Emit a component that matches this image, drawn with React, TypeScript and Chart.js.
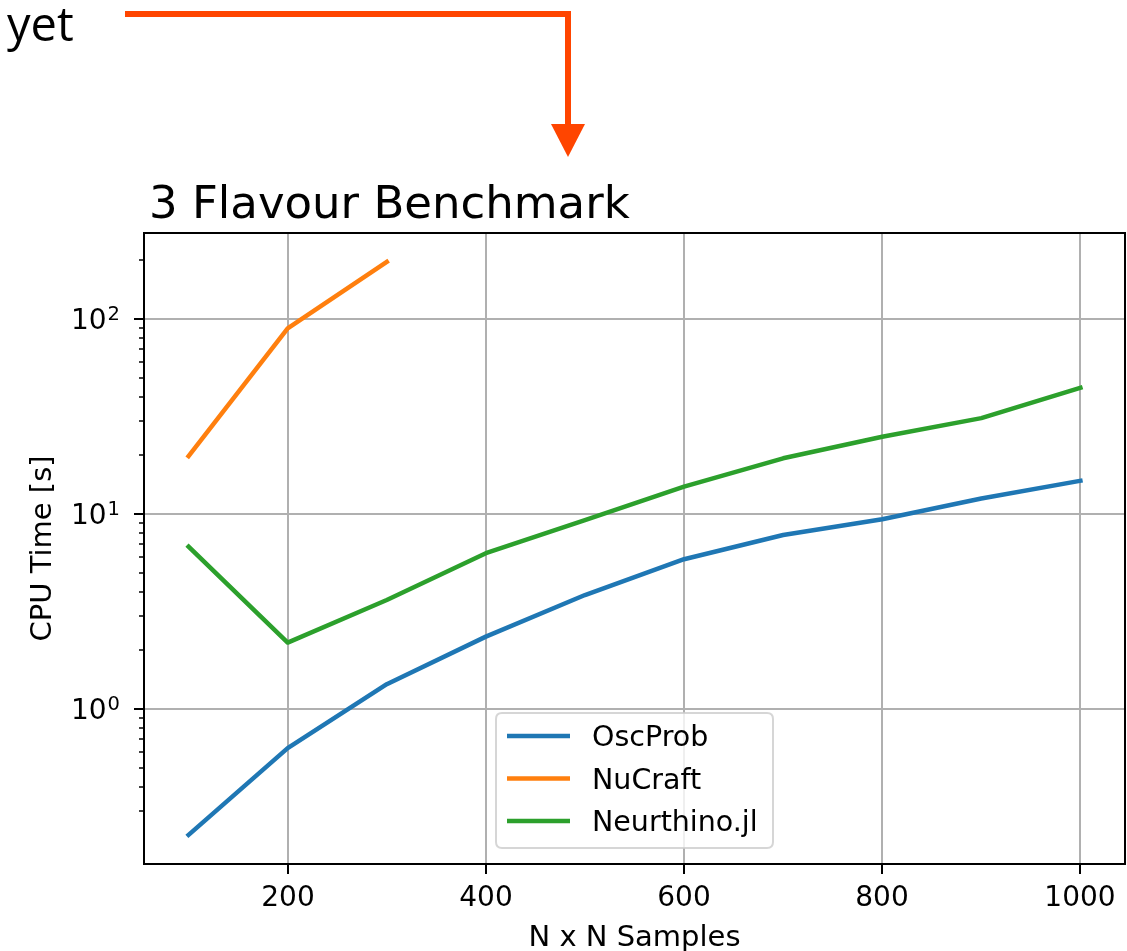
import React, { useEffect, useRef } from 'react';
import { Chart, registerables } from 'chart.js';

Chart.register(...registerables);

// ---- data ----
const samples = [100, 200, 300, 400, 500, 600, 700, 800, 900, 1000];
const nuCraftSamples = [100, 200, 300];
const oscProbTimes = [0.226, 0.63, 1.34, 2.35, 3.84, 5.86, 7.8, 9.4, 12.0, 14.8];
const nuCraftTimes = [19.8, 89.6, 196];
const neurthinoTimes = [6.8, 2.19, 3.62, 6.29, 9.3, 13.8, 19.3, 24.9, 31.0, 44.4];
const seriesLabels = ['OscProb', 'NuCraft', 'Neurthino.jl'];
const seriesColors = ['#1f77b4', '#ff7f0e', '#2ca02c'];
const xTickValues = [200, 400, 600, 800, 1000];
const yTickExponents = [0, 1, 2];
const titleText = '3 Flavour Benchmark';
const xAxisTitle = 'N x N Samples';
const yAxisTitle = 'CPU Time [s]';
const annotationText = 'yet';

const FONT = '"DejaVu Sans", sans-serif';

const isPow10 = (v: number) => {
  if (!(v > 0)) return false;
  const l = Math.log10(v);
  return Math.abs(l - Math.round(l)) < 1e-6;
};
const isNice = (v: number) => {
  if (!(v > 0)) return false;
  const m = v / Math.pow(10, Math.floor(Math.log10(v) + 1e-9));
  return Math.abs(m - Math.round(m)) < 1e-6 && Math.round(m) >= 1 && Math.round(m) <= 9;
};

const toPoints = (xs: number[], ys: number[]) => xs.map((x, i) => ({ x, y: ys[i] }));

const decorPlugin = {
  id: 'decor',
  afterDraw(chart: any) {
    const ctx: CanvasRenderingContext2D = chart.ctx;
    const { left, right, top, bottom } = chart.chartArea;
    const xs = chart.scales.x;
    const ys = chart.scales.y;
    ctx.save();

    // spines
    ctx.strokeStyle = '#000';
    ctx.lineWidth = 2;
    ctx.strokeRect(left, top, right - left, bottom - top);

    // x tick marks + labels
    ctx.fillStyle = '#000';
    ctx.font = `28px ${FONT}`;
    ctx.textAlign = 'center';
    ctx.textBaseline = 'alphabetic';
    xs.ticks.forEach((t: any) => {
      const px = Math.round(xs.getPixelForValue(t.value));
      ctx.beginPath();
      ctx.moveTo(px, bottom);
      ctx.lineTo(px, bottom + 10);
      ctx.stroke();
      ctx.fillText(String(t.value), px, bottom + 42);
    });

    // y tick marks
    ys.ticks.forEach((t: any) => {
      const py = Math.round(ys.getPixelForValue(t.value));
      const len = isPow10(t.value) ? 10 : 5;
      ctx.lineWidth = isPow10(t.value) ? 2 : 1.5;
      ctx.beginPath();
      ctx.moveTo(left - len, py);
      ctx.lineTo(left, py);
      ctx.stroke();
    });

    // y tick labels 10^n
    const labelRight = left - 24;
    yTickExponents.forEach((e) => {
      const py = ys.getPixelForValue(Math.pow(10, e));
      ctx.textAlign = 'left';
      ctx.font = `19.5px ${FONT}`;
      const supW = ctx.measureText(String(e)).width;
      ctx.font = `28px ${FONT}`;
      const baseW = ctx.measureText('10').width;
      ctx.fillText('10', labelRight - supW - 1 - baseW, py + 10);
      ctx.font = `19.5px ${FONT}`;
      ctx.fillText(String(e), labelRight - supW, py + 1);
    });

    // axis titles
    ctx.font = `29px ${FONT}`;
    ctx.textAlign = 'center';
    ctx.fillText(xAxisTitle, (left + right) / 2, 946);
    ctx.save();
    ctx.translate(51, (top + bottom) / 2);
    ctx.rotate(-Math.PI / 2);
    ctx.fillText(yAxisTitle, 0, 0);
    ctx.restore();

    // title
    ctx.font = `45px ${FONT}`;
    ctx.textAlign = 'left';
    ctx.fillText(titleText, left + 5, top - 15);

    // legend (lower center)
    const boxW = 277;
    const boxH = 135;
    const bx = (left + right) / 2 - boxW / 2;
    const by = bottom - 16 - boxH;
    const r = 6;
    ctx.beginPath();
    ctx.moveTo(bx + r, by);
    ctx.lineTo(bx + boxW - r, by);
    ctx.quadraticCurveTo(bx + boxW, by, bx + boxW, by + r);
    ctx.lineTo(bx + boxW, by + boxH - r);
    ctx.quadraticCurveTo(bx + boxW, by + boxH, bx + boxW - r, by + boxH);
    ctx.lineTo(bx + r, by + boxH);
    ctx.quadraticCurveTo(bx, by + boxH, bx, by + boxH - r);
    ctx.lineTo(bx, by + r);
    ctx.quadraticCurveTo(bx, by, bx + r, by);
    ctx.closePath();
    ctx.fillStyle = 'rgba(255,255,255,0.8)';
    ctx.fill();
    ctx.strokeStyle = 'rgba(204,204,204,0.8)';
    ctx.lineWidth = 2;
    ctx.stroke();

    chart.data.datasets.forEach((ds: any, i: number) => {
      const ry = by + 23 + i * 42.5;
      ctx.strokeStyle = ds.borderColor;
      ctx.lineWidth = 4.5;
      ctx.beginPath();
      ctx.moveTo(bx + 11, ry);
      ctx.lineTo(bx + 74, ry);
      ctx.stroke();
      ctx.fillStyle = '#000';
      ctx.font = `28.5px ${FONT}`;
      ctx.textAlign = 'left';
      ctx.fillText(ds.label, bx + 96, ry + 10);
    });

    // annotation text + arrow
    ctx.fillStyle = '#000';
    ctx.font = `47px "Open Sans", sans-serif`;
    ctx.textAlign = 'left';
    ctx.fillText(annotationText, 7, 41);

    ctx.strokeStyle = '#ff4500';
    ctx.fillStyle = '#ff4500';
    ctx.lineWidth = 6;
    ctx.lineJoin = 'miter';
    ctx.beginPath();
    ctx.moveTo(125, 14);
    ctx.lineTo(568, 14);
    ctx.lineTo(568, 126);
    ctx.stroke();
    ctx.beginPath();
    ctx.moveTo(551, 124);
    ctx.lineTo(585, 124);
    ctx.lineTo(568, 157);
    ctx.closePath();
    ctx.fill();

    ctx.restore();
  },
};

export default function App() {
  const ref = useRef<HTMLCanvasElement>(null);

  useEffect(() => {
    if (!ref.current) return;
    const datasets = [
      { label: seriesLabels[0], data: toPoints(samples, oscProbTimes), borderColor: seriesColors[0] },
      { label: seriesLabels[1], data: toPoints(nuCraftSamples, nuCraftTimes), borderColor: seriesColors[1] },
      { label: seriesLabels[2], data: toPoints(samples, neurthinoTimes), borderColor: seriesColors[2] },
    ].map((d) => ({
      ...d,
      backgroundColor: d.borderColor,
      borderWidth: 4.5,
      pointRadius: 0,
      tension: 0,
      fill: false,
      borderCapStyle: 'square' as const,
      borderJoinStyle: 'round' as const,
    }));

    const chart = new Chart(ref.current, {
      type: 'line',
      data: { datasets },
      options: {
        animation: false,
        responsive: false,
        devicePixelRatio: 1,
        layout: { padding: { top: 233, right: 2, left: 0, bottom: 0 } },
        plugins: {
          legend: { display: false },
          title: { display: false },
          tooltip: { enabled: false },
        },
        scales: {
          x: {
            type: 'linear',
            min: 55,
            max: 1045,
            ticks: { display: false, stepSize: 200, includeBounds: false },
            grid: { color: '#b0b0b0', lineWidth: 2, drawTicks: false },
            border: { display: false },
            afterBuildTicks: (s: any) => {
              s.ticks = xTickValues.map((v) => ({ value: v }));
            },
            afterFit: (s: any) => {
              s.height = 87;
            },
          },
          y: {
            type: 'logarithmic',
            min: 0.1603,
            max: 276,
            ticks: { display: false },
            grid: {
              color: (c: any) => (c.tick && isPow10(c.tick.value) ? '#b0b0b0' : 'rgba(0,0,0,0)'),
              lineWidth: 2,
              drawTicks: false,
            },
            border: { display: false },
            afterBuildTicks: (s: any) => {
              s.ticks = s.ticks.filter((t: any) => isNice(t.value));
            },
            afterFit: (s: any) => {
              s.width = 144;
            },
          },
        },
      } as any,
      plugins: [decorPlugin],
    });
    return () => chart.destroy();
  }, []);

  return (
    <div style={{ position: 'absolute', left: 0, top: 0, width: 1127, height: 951, background: '#fff' }}>
      <canvas ref={ref} width={1127} height={951} style={{ display: 'block', width: 1127, height: 951 }} />
    </div>
  );
}
